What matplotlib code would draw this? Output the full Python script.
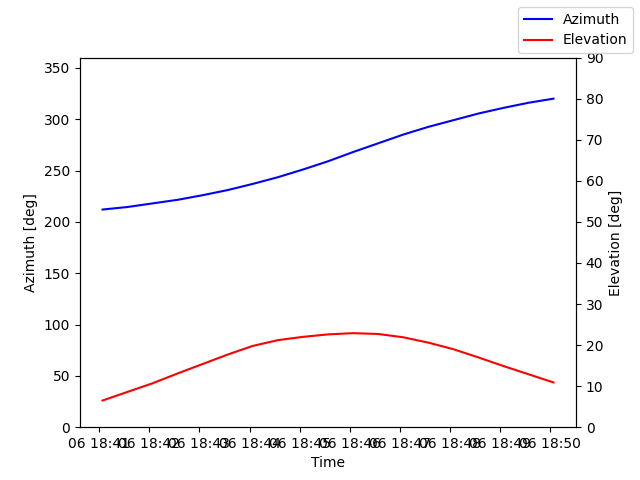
import matplotlib
matplotlib.use("Agg")
import matplotlib.pyplot as plt
import matplotlib.dates as mdates
import pandas as pd

# pass samples, 30 s apart
times = pd.date_range("2024-01-06 18:41:04", periods=19, freq="30s")
azimuth = [212, 214.5, 218, 221.5, 226, 231, 237, 243.5, 251, 259, 268, 276.5, 285, 292.5, 299, 305.5, 311, 316, 320]
elevation = [6.5, 8.6, 10.7, 13.1, 15.4, 17.7, 19.8, 21.2, 22.0, 22.6, 22.9, 22.7, 21.9, 20.6, 19.0, 17.0, 14.9, 12.9, 10.9]

fig, ax1 = plt.subplots(figsize=(6.4, 4.8), dpi=100)
ax2 = ax1.twinx()

ax1.plot(times, azimuth, color="blue", label="Azimuth")
ax2.plot(times, elevation, color="red", label="Elevation")

ax1.set_ylim(0, 360)
ax2.set_ylim(0, 90)
ax1.set_xlabel("Time")
ax1.set_ylabel("Azimuth [deg]")
ax2.set_ylabel("Elevation [deg]")
ax1.xaxis.set_major_locator(mdates.MinuteLocator())
ax1.xaxis.set_major_formatter(mdates.DateFormatter("%d %H:%M"))

fig.legend(loc="upper right")
fig.savefig("out.png")
